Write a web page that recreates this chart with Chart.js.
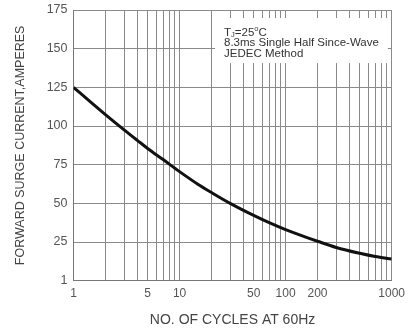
<!DOCTYPE html>
<html><head><meta charset="utf-8">
<script src="https://cdn.jsdelivr.net/npm/chart.js@4/dist/chart.umd.min.js"></script>
<style>html,body{margin:0;padding:0;background:#fff}#w{width:411px;height:333px}</style>
</head><body><div id="w"><canvas id="c"></canvas></div>
<script>
const cycles = [1, 1.5, 2, 3, 4, 5, 7, 10, 15, 20, 30, 50, 70, 100, 150, 200, 300, 500, 700, 1000];
const surgeAmps = [125, 114.6, 107.4, 97.5, 90.7, 85.5, 78.3, 70.5, 62.2, 57, 50, 42.2, 37.5, 33, 28.5, 25.5, 21.5, 17.7, 15.6, 14];
const xGridValues = [1,2,3,4,5,6,7,8,9,10,20,30,40,50,60,70,80,90,100,200,300,400,500,600,700,800,900,1000];
const xTickLabels = {1:'1',5:'5',10:'10',50:'50',100:'100',200:'200',1000:'1000'};
const yTickLabels = {0:'1',25:'25',50:'50',75:'75',100:'100',125:'125',150:'150',175:'175'};
const noteLines = ['8.3ms Single Half Since-Wave', 'JEDEC Method'];

const FONT = 'Liberation Sans, Arial, sans-serif';
const noteBox = {
  id: 'noteBox',
  afterDraw(chart) {
    const ctx = chart.ctx;
    const x = chart.scales.x, y = chart.scales.y;
    const left = x.getPixelForValue(21.6), right = x.getPixelForValue(920);
    const top = y.getPixelForValue(169.8), bot = y.getPixelForValue(140.7);
    ctx.save();
    ctx.fillStyle = '#fff';
    ctx.fillRect(left, top, right - left, bot - top);
    ctx.fillStyle = '#333';
    const F = '11.5px ' + FONT, S = '7.5px ' + FONT;
    ctx.font = F;
    ctx.textBaseline = 'middle';
    const tx = left + 9;
    let ty = top + 14.5;
    ctx.fillText('T', tx, ty);
    let w = ctx.measureText('T').width;
    ctx.font = S;
    ctx.fillText('J', tx + w, ty + 2);
    w += ctx.measureText('J').width;
    ctx.font = F;
    ctx.fillText('=25', tx + w, ty);
    w += ctx.measureText('=25').width;
    ctx.font = S;
    ctx.fillText('o', tx + w, ty - 3.5);
    w += ctx.measureText('o').width;
    ctx.font = F;
    ctx.fillText('C', tx + w, ty);
    noteLines.forEach((t, i) => ctx.fillText(t, tx, ty + 10.5 * (i + 1)));
    ctx.restore();
  }
};

new Chart(document.getElementById('c'), {
  type: 'line',
  data: { datasets: [{
    data: cycles.map((c, i) => ({x: c, y: surgeAmps[i]})),
    borderColor: '#111', borderWidth: 3, pointRadius: 0, cubicInterpolationMode: 'monotone', fill: false
  }]},
  options: {
    responsive: true, maintainAspectRatio: false, animation: false,
    layout: { padding: { left: 0, right: 19, top: 10, bottom: 0 } },
    plugins: { legend: { display: false }, tooltip: { enabled: false } },
    scales: {
      x: {
        type: 'logarithmic', min: 1, max: 1000,
        afterBuildTicks(s) { s.ticks = xGridValues.map(v => ({value: v})); },
        afterFit(s) { s.height = 52.3; },
        grid: { color: '#8a8a8a', lineWidth: 1, drawTicks: false },
        border: { color: '#777', width: 1 },
        ticks: { autoSkip: false, maxRotation: 0, padding: 6, color: '#555', font: { family: FONT, size: 12 },
          callback: (v) => xTickLabels[v] || '' },
        title: { display: true, text: 'NO. OF CYCLES AT 60Hz', color: '#444', font: { family: FONT, size: 14 }, padding: { top: 10 } }
      },
      y: {
        min: 0, max: 175,
        afterBuildTicks(s) { s.ticks = Object.keys(yTickLabels).map(v => ({value: +v})); },
        afterFit(s) { s.width = 73.5; s.paddingTop = 0; s.paddingBottom = 0; },
        grid: { color: '#8a8a8a', lineWidth: 1, drawTicks: false },
        border: { color: '#777', width: 1 },
        ticks: { padding: 6, color: '#555', font: { family: FONT, size: 12.5 },
          callback: (v) => yTickLabels[v] },
        title: { display: true, text: 'FORWARD SURGE CURRENT,AMPERES', color: '#444', font: { family: FONT, size: 12.5 }, padding: { top: 13, bottom: 0 } }
      }
    }
  },
  plugins: [noteBox]
});
</script></body></html>
